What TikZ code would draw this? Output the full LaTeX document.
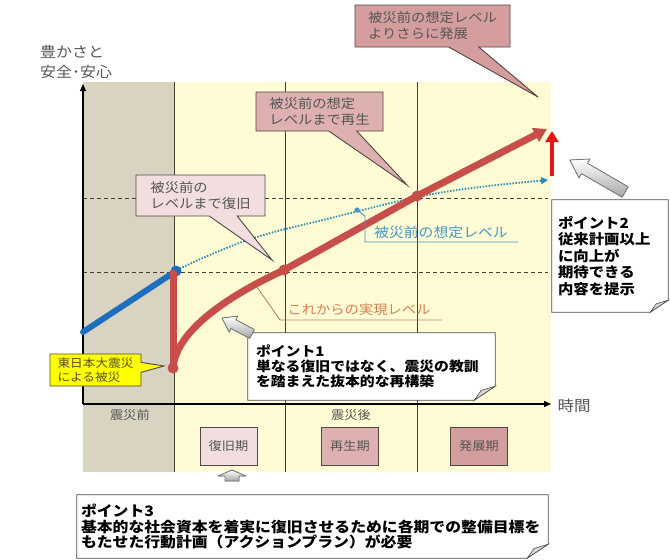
\documentclass[tikz,border=0pt]{standalone}
\usepackage{fontspec}
\setmainfont{Noto Sans CJK JP}[FakeStretch=1.1]
\usetikzlibrary{shapes.callouts,arrows.meta,calc}
\pgfdeclarelayer{back}
\pgfdeclarelayer{boxes}
\pgfsetlayers{back,boxes,main}
\definecolor{cPanelGray}{RGB}{217,211,193}
\definecolor{cPanelYellow}{RGB}{255,251,212}
\definecolor{cLine}{RGB}{70,60,50}
\definecolor{cRed}{RGB}{200,78,74}
\definecolor{cBrightRed}{RGB}{232,20,20}
\definecolor{cBlue}{RGB}{30,110,190}
\definecolor{cTeal}{RGB}{40,140,180}
\definecolor{cBorder}{RGB}{85,70,70}
\definecolor{cText}{RGB}{85,85,85}
\definecolor{cPinkDark}{RGB}{212,158,158}
\definecolor{cPinkMid}{RGB}{222,176,176}
\definecolor{cPinkLight}{RGB}{242,222,222}
\definecolor{cYellowBox}{RGB}{255,255,0}
\definecolor{cYellowText}{RGB}{85,80,35}
\definecolor{cBlueText}{RGB}{70,150,200}
\definecolor{cOrangeText}{RGB}{215,128,80}
\definecolor{cOrangeLine}{RGB}{190,130,90}
\begin{document}
\begin{tikzpicture}[x=1pt,y=-1pt,
  every node/.style={inner sep=0pt},
  vline/.style={draw=cLine, line width=0.8pt},
  dashline/.style={draw=cLine, line width=0.8pt, dash pattern=on 4pt off 3pt},
  axisline/.style={draw=black, line width=1.2pt, -{Triangle[length=7pt,width=6pt]}},
  redpath/.style={draw=cRed, line width=7pt, line cap=round, line join=round},
  bluepath/.style={draw=cBlue, line width=6pt, line cap=round},
  dotpath/.style={draw=cTeal, line width=1.8pt, dash pattern=on 1.5pt off 1.5pt},
  callbox/.style={rectangle callout, draw=cBorder, line width=0.9pt, align=left,
    font=\fontsize{13}{16}\selectfont, text=cText, inner xsep=9pt, inner ysep=3pt},
  periodbox/.style={draw=cBorder, line width=1pt, minimum width=57pt, minimum height=38pt,
    font=\fontsize{12}{14}\selectfont, text=cText},
  ptext/.style={align=left, font=\bfseries\fontsize{14}{16.5}\selectfont, text=black},
  ptoutline/.style={draw=black!70, line width=0.8pt, fill=white},
  foldstyle/.style={draw=black!70, line width=0.6pt, fill=black!15},
  fatarrow/.style={draw=black!55, line width=0.8pt, top color=white, bottom color=black!35, line join=round},
  plain/.style={font=\fontsize{12}{14}\selectfont, text=cText}
]
\useasboundingbox (0,0) rectangle (670,560);

\begin{pgfonlayer}{back}
  % panels
  \fill[cPanelGray] (83,82) rectangle (174,472);
  \fill[cPanelYellow] (174,82) rectangle (551,472);
  % grid
  \draw[vline] (174,82) -- (174,472);
  \draw[vline] (285,82) -- (285,472);
  \draw[vline] (417,82) -- (417,472);
  \draw[dashline] (83,198) -- (548,198);
  \draw[dashline] (83,272) -- (548,272);
  % axes
  \coordinate (origin) at (83,404);
  \coordinate (ytop) at (83,84);
  \coordinate (xend) at (551,404);
  \draw[axisline] (origin) -- (ytop);
  \draw[axisline] (origin) -- (xend);
  % curves
  \coordinate (bstart) at (83,332);
  \coordinate (bdot) at (176,271);
  \coordinate (rlow) at (173,368);
  \coordinate (rmid) at (284,270);
  \coordinate (rhigh) at (417,196);
  \coordinate (rend) at (547,129);
  \draw[dotpath, -{Triangle[length=7pt,width=7pt]}] plot[smooth, tension=0.6] coordinates
    {(177,270) (212,254) (260,236) (335,217) (417,197) (480,187) (548,180)};
  \draw[bluepath] (bstart) -- (bdot);
  \fill[cBlue] (bdot) circle (5.5);
  \draw[redpath] (173,273) -- (rlow);
  \draw[redpath, -{Triangle[length=13pt,width=15pt]}] (rlow) .. controls (176,330) and (230,295) .. (rmid) -- (rhigh) -- (rend);
  \fill[cRed] (rlow) circle (5.5);
  \fill[cRed] (rmid) circle (5.5);
  \fill[cRed] (rhigh) circle (5.5);
  % bright red arrow
  \coordinate (ua) at (552,176);
  \coordinate (ub) at (552,131);
  \draw[cBrightRed, line width=4.5pt, -{Triangle[length=11pt,width=13pt]}] (ua) -- (ub);
  % blue label leader
  \coordinate (bl0) at (357,210);
  \fill[cBlueText] (bl0) circle (2.6);
  \draw[cBlueText, line width=0.9pt] (bl0) -- (365,216) -- (365,242) -- (518,242);
  % orange label leader
  \draw[cOrangeLine, line width=0.9pt] (257,287) -- (280,320) -- (442,320);
\end{pgfonlayer}

% axis labels
\node[align=left, font=\fontsize{14.5}{20}\selectfont, text=cText, anchor=west] (ylab) at (40,62) {豊かさと\\安全･安心};
\node[font=\fontsize{15}{18}\selectfont, text=cText] (xlab) at (574,406) {時間};

% period labels
\node[plain] (pre) at (130,415) {震災前};
\node[plain] (post) at (351,415) {震災後};
\node[periodbox, fill=cPinkLight] (ph1) at (228.5,446) {復旧期};
\node[periodbox, fill=cPinkMid] (ph2) at (350,446) {再生期};
\node[periodbox, fill=cPinkDark] (ph3) at (479,446) {発展期};

% level labels
\node[font=\fontsize{13.5}{16}\selectfont, text=cBlueText] (bluelab) at (441,232) {被災前の想定レベル};
\node[font=\fontsize{13}{16}\selectfont, text=cOrangeText] (orlab) at (359,310) {これからの実現レベル};

% callouts
\node[callbox, fill=cPinkDark, minimum width=155pt, minimum height=42pt,
  callout absolute pointer={(538,97)}, callout pointer width=30pt] (c1) at (432.5,26) {被災前の想定レベル\\よりさらに発展};
\node[callbox, fill=cPinkMid, minimum width=127pt, minimum height=39pt,
  callout absolute pointer={(407,185)}, callout pointer width=28pt] (c2) at (319.5,111.5) {被災前の想定\\レベルまで再生};
\node[callbox, fill=cPinkLight, minimum width=129pt, minimum height=41pt,
  callout absolute pointer={(272,260)}, callout pointer width=28pt] (c3) at (200.5,195.5) {被災前の\\レベルまで復旧};
\node[callbox, fill=cYellowBox, text=cYellowText, minimum width=91pt, minimum height=32pt,
  font=\fontsize{11.5}{14.5}\selectfont, inner xsep=6pt,
  callout absolute pointer={(164,366)}, callout pointer width=10pt] (c4) at (95.5,370) {東日本大震災\\による被災};

% point boxes
\node[ptext, minimum width=247pt, minimum height=67pt, text width=231pt, font=\bfseries\fontsize{13.5}{15}\selectfont] (p1) at (371.5,366.5)
  {ポイント1\\単なる復旧ではなく、震災の教訓\\を踏まえた抜本的な再構築};
\node[ptext, minimum width=116pt, minimum height=112pt, text width=104pt] (p2) at (610,256)
  {ポイント2\\従来計画以上\\に向上が\\期待できる\\内容を提示};
\node[ptext, minimum width=471pt, minimum height=63pt, text width=463pt, inner xsep=4pt, font=\bfseries\fontsize{14.4}{15.5}\selectfont] (p3) at (312.5,526.5)
  {ポイント3\\基本的な社会資本を着実に復旧させるために各期での整備目標を\\もたせた行動計画（アクションプラン）が必要\\[6pt]};

\begin{pgfonlayer}{boxes}
  \foreach \p/\f in {p1/14, p2/12, p3/14}{
    \filldraw[ptoutline] (\p.north west) -- (\p.north east) -- ($(\p.south east)+(0,-\f)$)
      -- ($(\p.south east)+(-1.5*\f,0)$) -- (\p.south west) -- cycle;
    \filldraw[foldstyle] ($(\p.south east)+(0,-\f)$) -- ($(\p.south east)+(-\f,-0.7*\f)$)
      -- ($(\p.south east)+(-1.5*\f,0)$) -- cycle;
  }
\end{pgfonlayer}

% fat pointer arrows (drawn shapes)
\begin{scope}[shift={(237,326)}, rotate=152]
  \filldraw[fatarrow] (17,0) -- (4,9) -- (4,5) -- (-17,5) -- (-17,-5) -- (4,-5) -- (4,-9) -- cycle;
\end{scope}
\begin{scope}[shift={(597.5,176)}, rotate=150]
  \filldraw[fatarrow] (32,0) -- (15,11) -- (15,6) -- (-32,6) -- (-32,-6) -- (15,-6) -- (15,-11) -- cycle;
\end{scope}
\begin{scope}[shift={(232,476)}, rotate=90]
  \filldraw[fatarrow] (6,0) -- (0,14) -- (0,7) -- (-5,7) -- (-5,-7) -- (0,-7) -- (0,-14) -- cycle;
\end{scope}
\end{tikzpicture}
\end{document}
